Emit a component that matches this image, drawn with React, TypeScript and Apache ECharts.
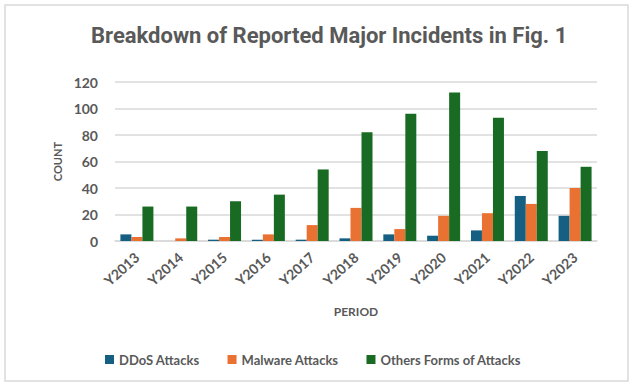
import React, { useEffect, useRef } from "react";
import * as echarts from "echarts";

const categories = ["Y2013", "Y2014", "Y2015", "Y2016", "Y2017", "Y2018", "Y2019", "Y2020", "Y2021", "Y2022", "Y2023"];
const ddos = [5, 0, 1, 1, 1, 2, 5, 4, 8, 34, 19];
const malware = [3, 2, 3, 5, 12, 25, 9, 19, 21, 28, 40];
const others = [26, 26, 30, 35, 54, 82, 96, 112, 93, 68, 56];
const seriesNames = ["DDoS Attacks", "Malware Attacks", "Others Forms of Attacks"];
const colors = ["#156082", "#E97132", "#196B24"];
const textColor = "#595959";
const font = "Lato, 'Open Sans', sans-serif";

export default function App() {
  const ref = useRef<HTMLDivElement>(null);
  useEffect(() => {
    if (!ref.current) return;
    const chart = echarts.init(ref.current, undefined, { renderer: "svg" });
    const mk = (name: string, data: number[], color: string) => ({
      name,
      type: "bar",
      data,
      barWidth: 11,
      barGap: "0%",
      itemStyle: { color },
    });
    chart.setOption({
      animation: false,
      backgroundColor: "#ffffff",
      title: {
        text: "Breakdown of Reported Major Incidents in Fig. 1",
        left: 86,
        top: 19,
        textStyle: { fontFamily: "'Liberation Sans Narrow', 'Roboto', sans-serif", fontSize: 22, fontWeight: "bold", color: textColor },
      },
      legend: {
        bottom: 15,
        left: 100,
        itemWidth: 9,
        itemHeight: 9,
        itemGap: 28,
        icon: "rect",
        textStyle: { fontFamily: font, fontSize: 13, fontWeight: "bold", color: textColor },
      },
      grid: { left: 115, right: 37, top: 82, bottom: 145 },
      xAxis: {
        type: "category",
        data: categories,
        name: "PERIOD",
        nameLocation: "middle",
        nameGap: 64,
        nameTextStyle: { fontFamily: font, fontSize: 12, fontWeight: "bold", color: textColor },
        axisTick: { show: false },
        axisLine: { lineStyle: { color: "#d9d9d9", width: 1.5 } },
        axisLabel: { rotate: 42, fontFamily: font, fontSize: 14, fontWeight: "bold", color: textColor, margin: 14 },
      },
      yAxis: {
        type: "value",
        min: 0,
        max: 120,
        interval: 20,
        name: "COUNT",
        nameLocation: "middle",
        nameRotate: 90,
        nameGap: 50,
        nameTextStyle: { fontFamily: font, fontSize: 11, fontWeight: "bold", color: textColor },
        axisLabel: { fontFamily: font, fontSize: 14, fontWeight: "bold", color: textColor, margin: 17 },
        splitLine: { lineStyle: { color: "#d9d9d9", width: 1.5 } },
      },
      graphic: [
        {
          type: "rect",
          shape: { x: 5, y: 5, width: 623, height: 376 },
          style: { fill: "none", stroke: "#d9d9d9", lineWidth: 1.5 },
          silent: true,
        },
      ],
      series: [
        mk(seriesNames[0], ddos, colors[0]),
        mk(seriesNames[1], malware, colors[1]),
        mk(seriesNames[2], others, colors[2]),
      ],
    });
    return () => chart.dispose();
  }, []);
  return <div ref={ref} style={{ position: "fixed", left: 0, top: 0, width: 634, height: 386 }} />;
}
